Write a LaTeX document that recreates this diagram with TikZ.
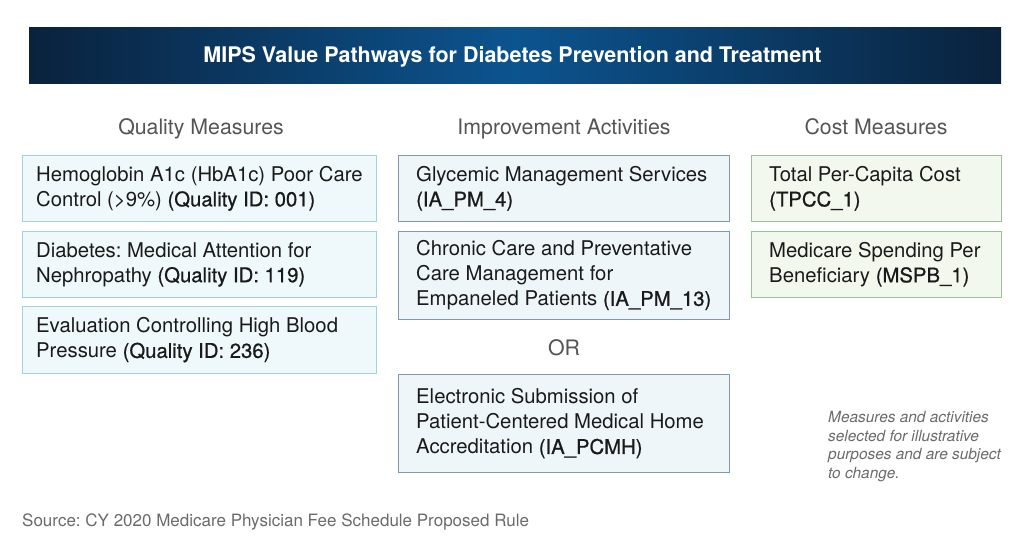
\documentclass[tikz,border=0pt]{standalone}
\usepackage{fontspec}
\setmainfont{TeX Gyre Heros}
\newfontfamily\medfont[FakeBold=0.7]{TeX Gyre Heros}
\newcommand{\codetext}[1]{{\medfont #1}}
\definecolor{bandedge}{HTML}{0A223D}
\definecolor{bandmid}{HTML}{0C548F}
\definecolor{headgray}{HTML}{555555}
\definecolor{notegray}{HTML}{6B6B6B}
\definecolor{qborder}{HTML}{9FD3DF}
\definecolor{qfill}{HTML}{EFF8FB}
\definecolor{iborder}{HTML}{8497A8}
\definecolor{ifill}{HTML}{EFF6FA}
\definecolor{cborder}{HTML}{9DBF99}
\definecolor{cfill}{HTML}{F3F8EF}
\definecolor{bodytext}{HTML}{1A1A1A}
\frenchspacing
\begin{document}
\begin{tikzpicture}[x=1pt,y=1pt,
  boxbase/.style={draw, line width=1pt, anchor=north west, inner sep=0pt},
  qbox/.style={boxbase, draw=qborder, fill=qfill, minimum width=354pt},
  ibox/.style={boxbase, draw=iborder, fill=ifill, minimum width=331pt},
  cbox/.style={boxbase, draw=cborder, fill=cfill, minimum width=250pt},
  boxtext/.style={anchor=west, align=left, inner sep=0pt, text=bodytext,
    font=\fontsize{20.3}{25}\selectfont\frenchspacing},
  colhead/.style={text=headgray, anchor=base, font=\fontsize{21.3}{25}\selectfont},
]
\useasboundingbox (0,0) rectangle (1024,-555);
\fill[white] (0,0) rectangle (1024,-555);
% banner
\shade[left color=bandedge, right color=bandedge, middle color=bandmid] (29,-27) rectangle (1001,-83);
\node[anchor=base, text=white, font=\fontsize{21.5}{24}\bfseries] (title) at (512.5,-62) {MIPS Value Pathways for Diabetes Prevention and Treatment};
% column headers
\node[colhead] (hq) at (201,-134) {Quality Measures};
\node[colhead] (hi) at (564,-134) {Improvement Activities};
\node[colhead] (hc) at (876,-134) {Cost Measures};
% quality boxes
\node[qbox, minimum height=66pt] (q1) at (22,-155) {};
\node[boxtext] (q1t) at ([xshift=14pt]q1.west) {Hemoglobin A1c (HbA1c) Poor Care\\Control (>9\%) \codetext{(Quality ID: 001)}};
\node[qbox, minimum height=66pt] (q2) at (22,-231) {};
\node[boxtext] (q2t) at ([xshift=14pt]q2.west) {Diabetes: Medical Attention for\\Nephropathy \codetext{(Quality ID: 119)}};
\node[qbox, minimum height=67pt] (q3) at (22,-306) {};
\node[boxtext] (q3t) at ([xshift=14pt]q3.west) {Evaluation Controlling High Blood\\Pressure \codetext{(Quality ID: 236)}};
% improvement boxes
\node[ibox, minimum height=66pt] (i1) at (398,-155) {};
\node[boxtext] (i1t) at ([xshift=18pt]i1.west) {Glycemic Management Services\\\codetext{(IA\_PM\_4)}};
\node[ibox, minimum height=88pt] (i2) at (398,-231) {};
\node[boxtext] (i2t) at ([xshift=18pt]i2.west) {Chronic Care and Preventative\\Care Management for\\Empaneled Patients \codetext{(IA\_PM\_13)}};
\node[colhead] (or) at (564,-355) {OR};
\node[ibox, minimum height=98pt] (i3) at (398,-374) {};
\node[boxtext] (i3t) at ([xshift=18pt]i3.west) {Electronic Submission of\\Patient-Centered Medical Home\\Accreditation \codetext{(IA\_PCMH)}};
% cost boxes
\node[cbox, minimum height=66pt] (c1) at (751,-155) {};
\node[boxtext] (c1t) at ([xshift=18pt]c1.west) {Total Per-Capita Cost\\\codetext{(TPCC\_1)}};
\node[cbox, minimum height=66pt] (c2) at (751,-231) {};
\node[boxtext] (c2t) at ([xshift=18pt]c2.west) {Medicare Spending Per\\Beneficiary \codetext{(MSPB\_1)}};
% note
\node[anchor=north west, align=left, inner sep=0pt, text=notegray, font=\fontsize{15.4}{18.7}\selectfont\itshape] (note) at (828,-411) {Measures and activities\\selected for illustrative\\purposes and are subject\\to change.};
% source
\node[anchor=west, inner sep=0pt, text=notegray, font=\fontsize{17}{20}\selectfont] (src) at (22,-522) {Source: CY 2020 Medicare Physician Fee Schedule Proposed Rule};
\end{tikzpicture}
\end{document}
